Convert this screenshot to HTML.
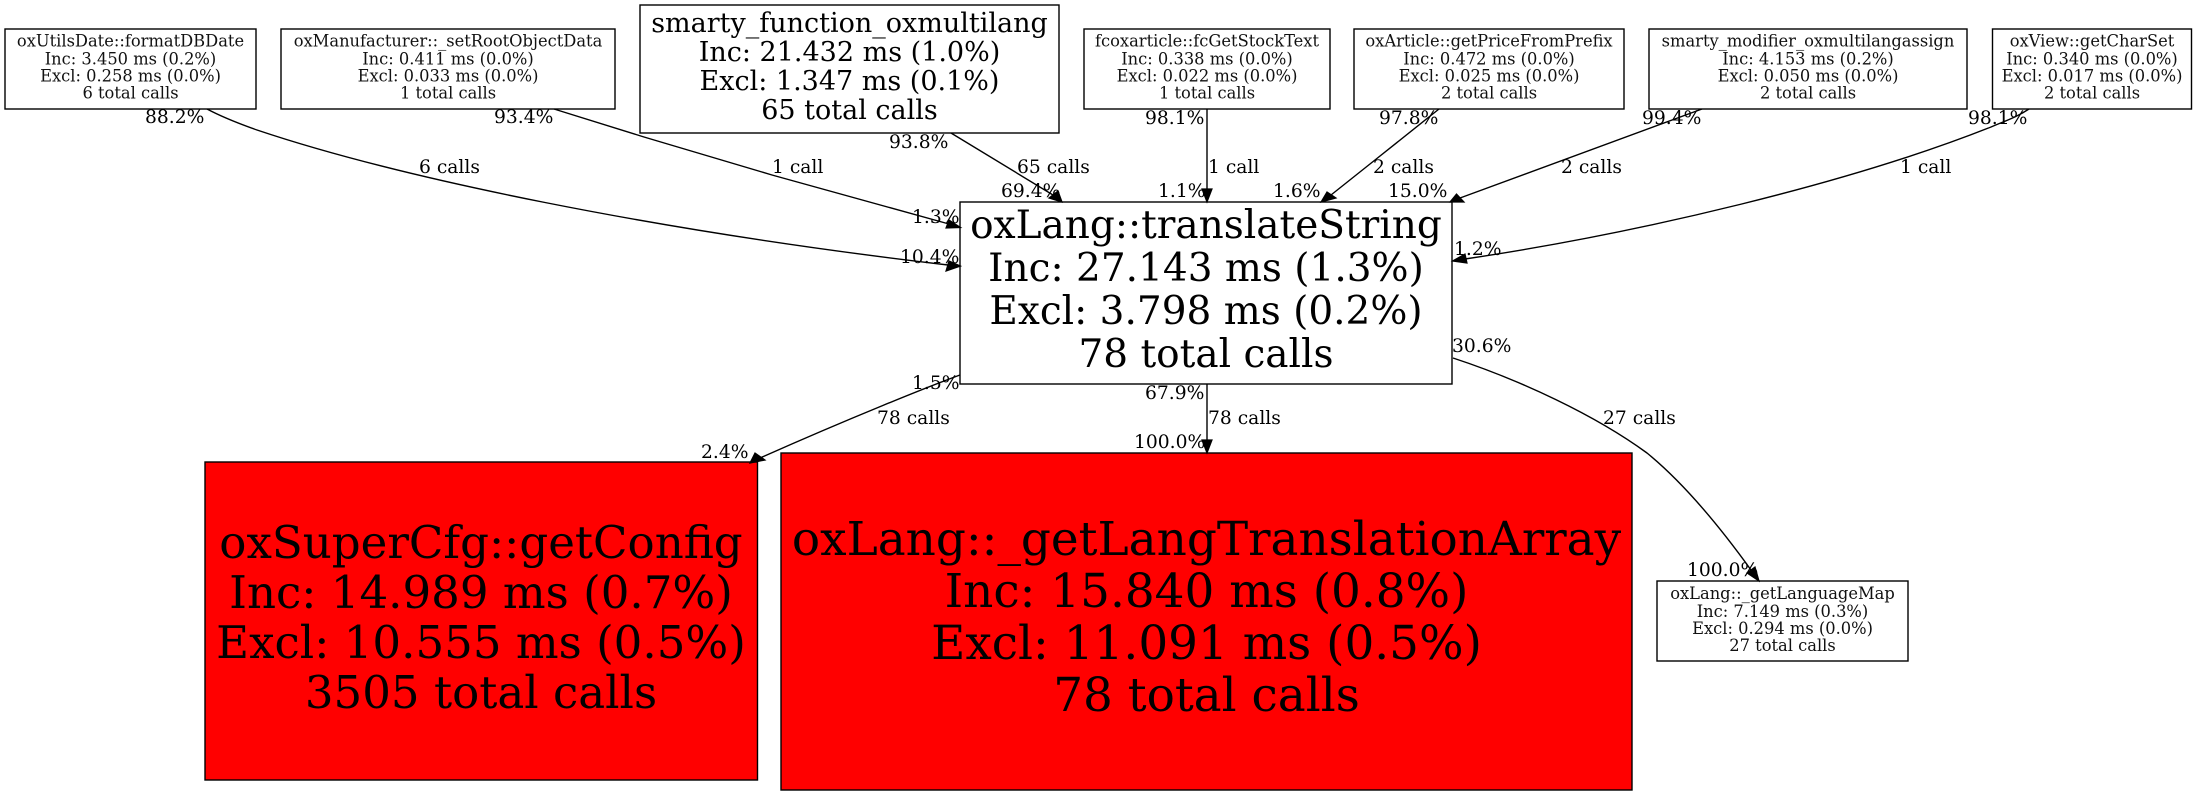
<!DOCTYPE html>
<html><head><meta charset="utf-8"><style>
html,body{margin:0;padding:0;background:#fff}
svg{display:block}
text{font-family:"DejaVu Serif",serif;fill:#000}
.n{text-anchor:middle;font-size:16.3px;fill:#111}
.e{font-size:18.7px}
rect{stroke:#000;stroke-width:1.4;fill:#fff}
rect.red{fill:#f00}
path{fill:none;stroke:#000;stroke-width:1.4}
polygon{fill:#000;stroke:#000;stroke-width:1.2}
</style></head><body>
<svg width="2196" height="795" viewBox="0 0 2196 795" xmlns="http://www.w3.org/2000/svg">
<rect x="5" y="29" width="251" height="80"/>
<text class="n" x="130.500" y="46.700">oxUtilsDate::formatDBDate</text><text class="n" x="130.500" y="64.500">Inc: 3.450 ms (0.2%)</text><text class="n" x="130.500" y="81.500">Excl: 0.258 ms (0.0%)</text><text class="n" x="130.500" y="98.500">6 total calls</text>
<rect x="281" y="29" width="334" height="80"/>
<text class="n" x="448" y="46.700">oxManufacturer::_setRootObjectData</text><text class="n" x="448" y="64.500">Inc: 0.411 ms (0.0%)</text><text class="n" x="448" y="81.500">Excl: 0.033 ms (0.0%)</text><text class="n" x="448" y="98.500">1 total calls</text>
<rect x="640" y="5" width="419" height="128"/>
<g style="text-anchor:middle;font-size:27px"><text x="849.500" y="32">smarty_function_oxmultilang</text><text x="849.500" y="61">Inc: 21.432 ms (1.0%)</text><text x="849.500" y="90">Excl: 1.347 ms (0.1%)</text><text x="849.500" y="119">65 total calls</text></g>
<rect x="1084" y="29" width="246" height="80"/>
<text class="n" x="1207" y="46.700">fcoxarticle::fcGetStockText</text><text class="n" x="1207" y="64.500">Inc: 0.338 ms (0.0%)</text><text class="n" x="1207" y="81.500">Excl: 0.022 ms (0.0%)</text><text class="n" x="1207" y="98.500">1 total calls</text>
<rect x="1354" y="29" width="270" height="80"/>
<text class="n" x="1489" y="46.700">oxArticle::getPriceFromPrefix</text><text class="n" x="1489" y="64.500">Inc: 0.472 ms (0.0%)</text><text class="n" x="1489" y="81.500">Excl: 0.025 ms (0.0%)</text><text class="n" x="1489" y="98.500">2 total calls</text>
<rect x="1649" y="29" width="318" height="80"/>
<text class="n" x="1808" y="46.700">smarty_modifier_oxmultilangassign</text><text class="n" x="1808" y="64.500">Inc: 4.153 ms (0.2%)</text><text class="n" x="1808" y="81.500">Excl: 0.050 ms (0.0%)</text><text class="n" x="1808" y="98.500">2 total calls</text>
<rect x="1992.500" y="29" width="199" height="80"/>
<text class="n" x="2092" y="46.700">oxView::getCharSet</text><text class="n" x="2092" y="64.500">Inc: 0.340 ms (0.0%)</text><text class="n" x="2092" y="81.500">Excl: 0.017 ms (0.0%)</text><text class="n" x="2092" y="98.500">2 total calls</text>
<rect x="960" y="202" width="492" height="182"/>
<g style="text-anchor:middle;font-size:39px"><text x="1206" y="238">oxLang::translateString</text><text x="1206" y="281">Inc: 27.143 ms (1.3%)</text><text x="1206" y="324">Excl: 3.798 ms (0.2%)</text><text x="1206" y="367">78 total calls</text></g>
<rect class="red" x="205" y="462" width="552.500" height="318"/>
<g style="text-anchor:middle;font-size:45.100px"><text x="481" y="558">oxSuperCfg::getConfig</text><text x="481" y="608">Inc: 14.989 ms (0.7%)</text><text x="481" y="658">Excl: 10.555 ms (0.5%)</text><text x="481" y="708">3505 total calls</text></g>
<rect class="red" x="781" y="453" width="851" height="337"/>
<g style="text-anchor:middle;font-size:46.900px"><text x="1206.500" y="555">oxLang::_getLangTranslationArray</text><text x="1206.500" y="607">Inc: 15.840 ms (0.8%)</text><text x="1206.500" y="659">Excl: 11.091 ms (0.5%)</text><text x="1206.500" y="711">78 total calls</text></g>
<rect x="1657" y="581" width="251" height="80"/>
<text class="n" x="1782.500" y="599">oxLang::_getLanguageMap</text><text class="n" x="1782.500" y="617">Inc: 7.149 ms (0.3%)</text><text class="n" x="1782.500" y="634">Excl: 0.294 ms (0.0%)</text><text class="n" x="1782.500" y="651">27 total calls</text>

<path d="M207,109 C224,118 240,124 257,130 C400,178 650,230 948,265"/>
<polygon points="960.500,266 946,271 949,261"/>
<path d="M554,109 L644,137 L772,175 L949,224"/>
<polygon points="960.500,227.500 946,228 949,220"/>
<path d="M951,133 L1053,195"/>
<polygon points="1062,202 1049,198 1058,191"/>
<path d="M1207,109 L1207,190"/>
<polygon points="1207,202 1202,189 1212,189"/>
<path d="M1439,109 L1375,160 L1331,195"/>
<polygon points="1321,202 1327,192 1336,198"/>
<path d="M1702,109 L1460,198"/>
<polygon points="1450,202 1456.500,194 1464,202"/>
<path d="M2029,109 C2017,117 2005,121 1991,127 C1850,183 1640,233 1465,259"/>
<polygon points="1452.500,261 1465,254 1467,263"/>
<path d="M960,375 C930,386 850,418 760,458"/>
<polygon points="750,463 755,453 765,460"/>
<path d="M1207,384 L1207,441"/>
<polygon points="1207,453 1202,440 1212,440"/>
<path d="M1453,358 C1520,380 1595,415 1647,453 C1680,480 1715,520 1751,570"/>
<polygon points="1759,581 1747,573 1755,567"/>

<text class="e" x="145" y="123">88.2%</text>
<text class="e" x="494" y="123">93.4%</text>
<text class="e" x="889" y="148">93.8%</text>
<text class="e" x="1001" y="197">69.4%</text>
<text class="e" x="912" y="223">1.3%</text>
<text class="e" x="900" y="263">10.4%</text>
<text class="e" x="912" y="389">1.5%</text>
<text class="e" x="419" y="173">6 calls</text>
<text class="e" x="772" y="173">1 call</text>
<text class="e" x="1017" y="173">65 calls</text>
<text class="e" x="1145" y="124">98.1%</text>
<text class="e" x="1379" y="124">97.8%</text>
<text class="e" x="1642" y="124">99.4%</text>
<text class="e" x="1968" y="124">98.1%</text>
<text class="e" x="1208" y="173">1 call</text>
<text class="e" x="1373" y="173">2 calls</text>
<text class="e" x="1561" y="173">2 calls</text>
<text class="e" x="1900" y="173">1 call</text>
<text class="e" x="1158" y="197">1.1%</text>
<text class="e" x="1273" y="197">1.6%</text>
<text class="e" x="1388" y="197">15.0%</text>
<text class="e" x="1454" y="255">1.2%</text>
<text class="e" x="1452" y="352">30.6%</text>
<text class="e" x="1145" y="399">67.9%</text>
<text class="e" x="877" y="424">78 calls</text>
<text class="e" x="701" y="458">2.4%</text>
<text class="e" x="1208" y="424">78 calls</text>
<text class="e" x="1603" y="424">27 calls</text>
<text class="e" x="1134" y="448">100.0%</text>
<text class="e" x="1687" y="576">100.0%</text>
</svg>
</body></html>
